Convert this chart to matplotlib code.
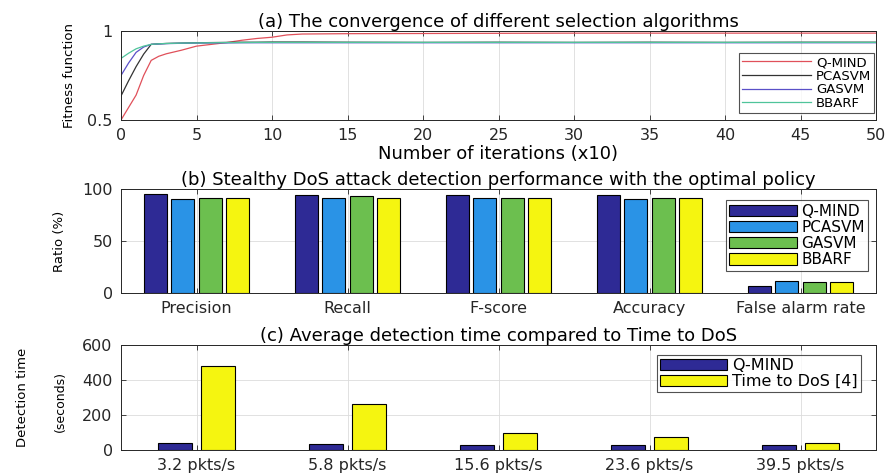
import matplotlib
matplotlib.use("Agg")
import matplotlib.pyplot as plt
import numpy as np

plt.rcParams['font.family'] = ['DejaVu Sans']

# (a) convergence curves, x in units of 10 iterations
iters = [0, 0.5, 1, 1.5, 2, 2.5, 3, 4, 5, 6, 7, 8, 9, 10, 11, 12, 15, 20, 25, 30, 35, 40, 45, 50]
qmind_fit = [0.50, 0.57, 0.64, 0.75, 0.835, 0.858, 0.872, 0.892, 0.915, 0.925, 0.935, 0.948, 0.958,
             0.965, 0.978, 0.983, 0.985, 0.986, 0.987, 0.988, 0.988, 0.988, 0.988, 0.988]
pcasvm_fit = [0.635, 0.72, 0.80, 0.87, 0.925, 0.928, 0.930, 0.932, 0.934, 0.935, 0.936, 0.937, 0.937,
              0.938, 0.938, 0.938, 0.937, 0.936, 0.937, 0.936, 0.937, 0.936, 0.937, 0.937]
gasvm_fit = [0.75, 0.82, 0.88, 0.91, 0.925, 0.927, 0.929, 0.931, 0.932, 0.933, 0.933, 0.934, 0.934,
             0.934, 0.934, 0.934, 0.934, 0.934, 0.934, 0.934, 0.934, 0.934, 0.934, 0.934]
bbarf_fit = [0.846, 0.875, 0.90, 0.915, 0.925, 0.928, 0.930, 0.932, 0.933, 0.934, 0.935, 0.935, 0.936,
             0.936, 0.936, 0.936, 0.936, 0.936, 0.936, 0.936, 0.936, 0.936, 0.936, 0.936]

# (b) detection performance (%)
metrics = ["Precision", "Recall", "F-score", "Accuracy", "False alarm rate"]
qmind_perf = [95.2, 94.2, 94.2, 94.2, 7.0]
pcasvm_perf = [90.0, 91.0, 91.0, 90.0, 11.8]
gasvm_perf = [91.4, 93.3, 91.0, 91.0, 10.2]
bbarf_perf = [91.4, 91.4, 91.0, 91.0, 10.2]

# (c) detection time (seconds)
rates = ["3.2 pkts/s", "5.8 pkts/s", "15.6 pkts/s", "23.6 pkts/s", "39.5 pkts/s"]
qmind_time = [38, 36, 30, 28, 27]
dos_time = [480, 265, 98, 72, 42]

navy = '#2e2a95'
blue = '#2a93e6'
green = '#6cbf4f'
yellow = '#f5f510'
txt = '#262626'

fig = plt.figure(figsize=(8.92, 4.75), dpi=100)
W, H = 892, 475
def px_axes(left, top, right, bottom):
    return fig.add_axes([left / W, 1 - bottom / H, (right - left) / W, (bottom - top) / H])

def style(ax):
    ax.tick_params(direction='in', top=True, right=True, length=3.5, width=0.6,
                   labelsize=11.5, colors=txt, pad=6)
    for s in ax.spines.values():
        s.set_color(txt)
        s.set_linewidth(0.7)
    ax.grid(True, color='#dcdcdc', linewidth=0.6)
    ax.set_axisbelow(True)

# ---- (a)
ax1 = px_axes(121, 31, 876, 120)
style(ax1)
ax1.plot(iters, qmind_fit, color='#e0505a', lw=0.9, label='Q-MIND')
ax1.plot(iters, pcasvm_fit, color='#333333', lw=0.9, label='PCASVM')
ax1.plot(iters, gasvm_fit, color='#5a50c8', lw=0.9, label='GASVM')
ax1.plot(iters, bbarf_fit, color='#4fc49a', lw=0.9, label='BBARF')
ax1.set_xlim(0, 50)
ax1.set_ylim(0.5, 1)
ax1.set_xticks(np.arange(0, 51, 5))
ax1.set_yticks([0.5, 1])
ax1.set_yticklabels(['0.5', '1'])
ax1.set_title('(a) The convergence of different selection algorithms', fontsize=13, pad=3)
ax1.set_xlabel('Number of iterations (x10)', fontsize=13, labelpad=1, color='black')
ax1.set_ylabel('Fitness function', fontsize=9.5, labelpad=8, color='black')
leg = ax1.legend(loc='lower right', bbox_to_anchor=(0.998, 0.075), fontsize=9.5, frameon=True,
                 fancybox=False, edgecolor=txt, handlelength=5.2, labelspacing=0.05,
                 borderpad=0.25, handletextpad=0.4, borderaxespad=0)
leg.get_frame().set_linewidth(0.8)

# ---- (b)
ax2 = px_axes(121, 189, 876, 293)
style(ax2)
xpos = np.arange(1, len(metrics) + 1)
bw = 0.152
offs = [-0.274, -0.0915, 0.0915, 0.274]
for off, vals, col, lab in zip(offs, [qmind_perf, pcasvm_perf, gasvm_perf, bbarf_perf],
                               [navy, blue, green, yellow], ['Q-MIND', 'PCASVM', 'GASVM', 'BBARF']):
    ax2.bar(xpos + off, vals, bw, color=col, edgecolor='black', linewidth=0.8, label=lab)
ax2.set_xlim(0.5, 5.5)
ax2.set_ylim(0, 100)
ax2.set_xticks(xpos)
ax2.set_xticklabels(metrics)
ax2.set_yticks([0, 50, 100])
ax2.set_title('(b) Stealthy DoS attack detection performance with the optimal policy', fontsize=13, pad=3)
ax2.set_ylabel('Ratio (%)', fontsize=9.5, labelpad=12, color='black')
leg = ax2.legend(loc='lower right', bbox_to_anchor=(0.99, 0.21), fontsize=11, frameon=True,
                 fancybox=False, edgecolor=txt, handlelength=4.4, handleheight=0.75, labelspacing=0.08,
                 borderpad=0.25, handletextpad=0.3, borderaxespad=0)
leg.get_frame().set_linewidth(0.8)

# ---- (c)
ax3 = px_axes(121, 345, 876, 450)
style(ax3)
bw2 = 0.23
ax3.bar(xpos - 0.143, qmind_time, bw2, color=navy, edgecolor='black', linewidth=0.8, label='Q-MIND')
ax3.bar(xpos + 0.143, dos_time, bw2, color=yellow, edgecolor='black', linewidth=0.8, label='Time to DoS [4]')
ax3.set_xlim(0.5, 5.5)
ax3.set_ylim(0, 600)
ax3.set_xticks(xpos)
ax3.set_xticklabels(rates)
ax3.set_yticks([0, 200, 400, 600])
ax3.set_title('(c) Average detection time compared to Time to DoS', fontsize=13, pad=3)
leg = ax3.legend(loc='upper right', bbox_to_anchor=(0.98, 0.905), fontsize=11.5, frameon=True,
                 fancybox=False, edgecolor=txt, handlelength=4.2, handleheight=0.75, labelspacing=0.05,
                 borderpad=0.2, handletextpad=0.3, borderaxespad=0)
leg.get_frame().set_linewidth(0.8)
fig.text(23 / W, 1 - 397 / H, 'Detection time', rotation=90, fontsize=9.5, ha='center', va='center')
fig.text(60 / W, 1 - 402 / H, '(seconds)', rotation=90, fontsize=9, ha='center', va='center')

fig.savefig('out.png', dpi=100)
